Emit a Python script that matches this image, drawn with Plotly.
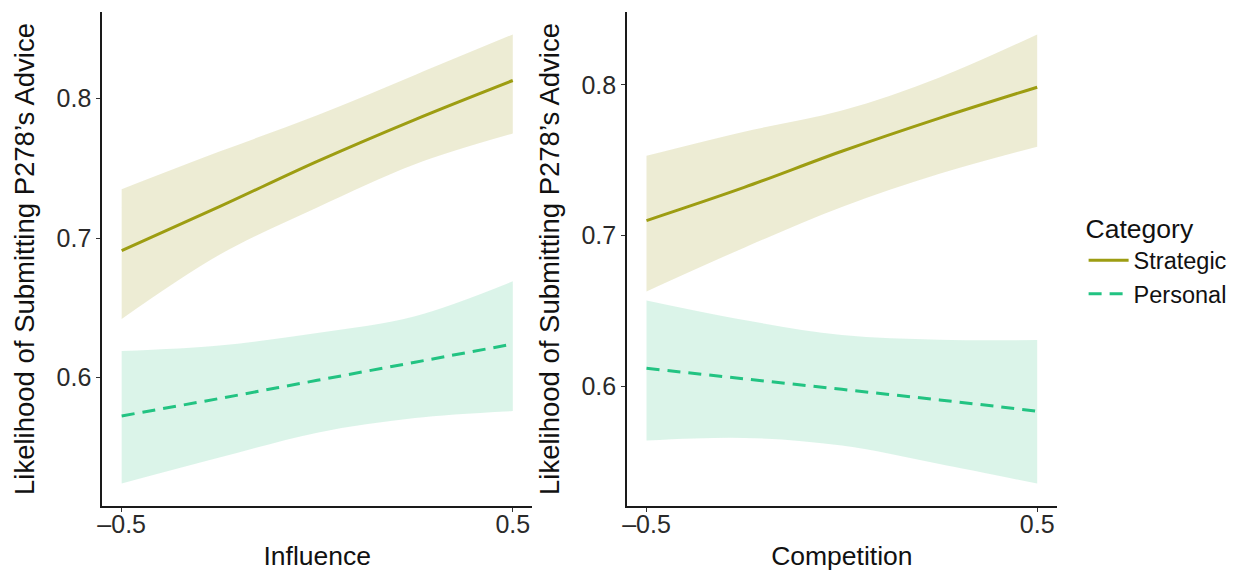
import plotly.graph_objects as go

# ---- data ----
x_pts = [-0.5, -0.25, 0.0, 0.25, 0.5]

# Left panel: Influence
inf_strat_fit = [0.691, 0.7225, 0.755, 0.785, 0.813]
inf_strat_hi = [0.735, 0.762, 0.788, 0.817, 0.846]
inf_strat_lo = [0.642, 0.688, 0.722, 0.753, 0.775]
inf_pers_fit = [0.5725, 0.585, 0.598, 0.611, 0.624]
inf_pers_hi = [0.619, 0.623, 0.632, 0.644, 0.669]
inf_pers_lo = [0.524, 0.5426, 0.5605, 0.571, 0.576]

# Right panel: Competition
comp_strat_fit = [0.710, 0.732, 0.756, 0.778, 0.7985]
comp_strat_hi = [0.753, 0.769, 0.783, 0.805, 0.8335]
comp_strat_lo = [0.663, 0.692, 0.719, 0.741, 0.759]
comp_pers_fit = [0.612, 0.605, 0.598, 0.591, 0.5835]
comp_pers_hi = [0.657, 0.644, 0.634, 0.631, 0.6307]
comp_pers_lo = [0.564, 0.5658, 0.5607, 0.5485, 0.5355]

categories = ["Strategic", "Personal"]
x_titles = ["Influence", "Competition"]
y_title = "Likelihood of Submitting P278’s Advice"
x_ticks = [-0.5, 0.5]
x_ticktext = ["–0.5", "0.5"]
y_ticks = [0.6, 0.7, 0.8]

# ---- style ----
W, H = 1233, 571
line_col = {"Strategic": "#9d9d12", "Personal": "#22c382"}
fill_col = {"Strategic": "rgba(175,170,60,0.22)", "Personal": "rgba(40,190,125,0.17)"}
dash = {"Strategic": "solid", "Personal": "13px,8px"}
FONT = "Liberation Sans, Arial, Helvetica, sans-serif"

fig = go.Figure()

panels = [
    ("x", "y", {"Strategic": (inf_strat_fit, inf_strat_lo, inf_strat_hi),
                "Personal": (inf_pers_fit, inf_pers_lo, inf_pers_hi)}),
    ("x2", "y2", {"Strategic": (comp_strat_fit, comp_strat_lo, comp_strat_hi),
                  "Personal": (comp_pers_fit, comp_pers_lo, comp_pers_hi)}),
]

yranges = []
for pi, (xa, ya, d) in enumerate(panels):
    allv = []
    for cat in categories:
        fit, lo, hi = d[cat]
        allv += lo + hi
        fig.add_trace(go.Scatter(
            x=x_pts, y=lo, mode="lines", line=dict(width=0, shape="spline"),
            hoverinfo="skip", showlegend=False, xaxis=xa, yaxis=ya))
        fig.add_trace(go.Scatter(
            x=x_pts, y=hi, mode="lines", fill="tonexty", fillcolor=fill_col[cat],
            line=dict(width=0, shape="spline"),
            hoverinfo="skip", showlegend=False, xaxis=xa, yaxis=ya))
    for cat in categories:
        fit, lo, hi = d[cat]
        fig.add_trace(go.Scatter(
            x=x_pts, y=fit, mode="lines", name=cat, legendgroup=cat,
            line=dict(color=line_col[cat], width=3, dash=dash[cat], shape="spline"),
            showlegend=(pi == 0), xaxis=xa, yaxis=ya))
    mn, mx = min(allv), max(allv)
    pad = (mx - mn) * 0.05
    yranges.append([mn - pad, mx + pad])

def px(v, total):
    return v / total

ydom = [1 - px(506, H), 1 - px(12, H)]
xdoms = [[px(97.5, W), px(529.5, W)], [px(624.5, W), px(1056, W)]]

axis_common = dict(showline=True, linecolor="#1a1a1a", linewidth=1.5, ticks="outside",
                   ticklen=4, tickwidth=1.2, tickcolor="#333333", showgrid=False,
                   zeroline=False, tickfont=dict(size=25, color="#2a2a2a", family=FONT))

for i in range(2):
    xs = "xaxis" if i == 0 else "xaxis2"
    ys = "yaxis" if i == 0 else "yaxis2"
    fig.update_layout(**{
        xs: dict(domain=xdoms[i], range=[-0.55, 0.55], tickvals=x_ticks, ticktext=x_ticktext,
                 anchor="y" if i == 0 else "y2", ticklabelstandoff=-9,
                 title=dict(text=x_titles[i], font=dict(size=26.5, color="#111", family=FONT), standoff=14),
                 **axis_common),
        ys: dict(domain=ydom, range=yranges[i], tickvals=y_ticks, tickformat=".1f",
                 anchor="x" if i == 0 else "x2",
                 title=dict(text=y_title, font=dict(size=27.5, color="#111", family=FONT), standoff=14),
                 **axis_common),
    })

fig.update_layout(
    width=W, height=H, margin=dict(l=0, r=0, t=0, b=0),
    plot_bgcolor="white", paper_bgcolor="white",
    font=dict(family=FONT),
    legend=dict(x=px(1083, W), y=1 - px(204, H), xanchor="left", yanchor="top",
                title=dict(text="Category", font=dict(size=26.5, color="#111", family=FONT)),
                font=dict(size=23.5, color="#111", family=FONT), itemwidth=40,
                bgcolor="rgba(0,0,0,0)", tracegroupgap=0),
)

fig.write_html("out.html")
